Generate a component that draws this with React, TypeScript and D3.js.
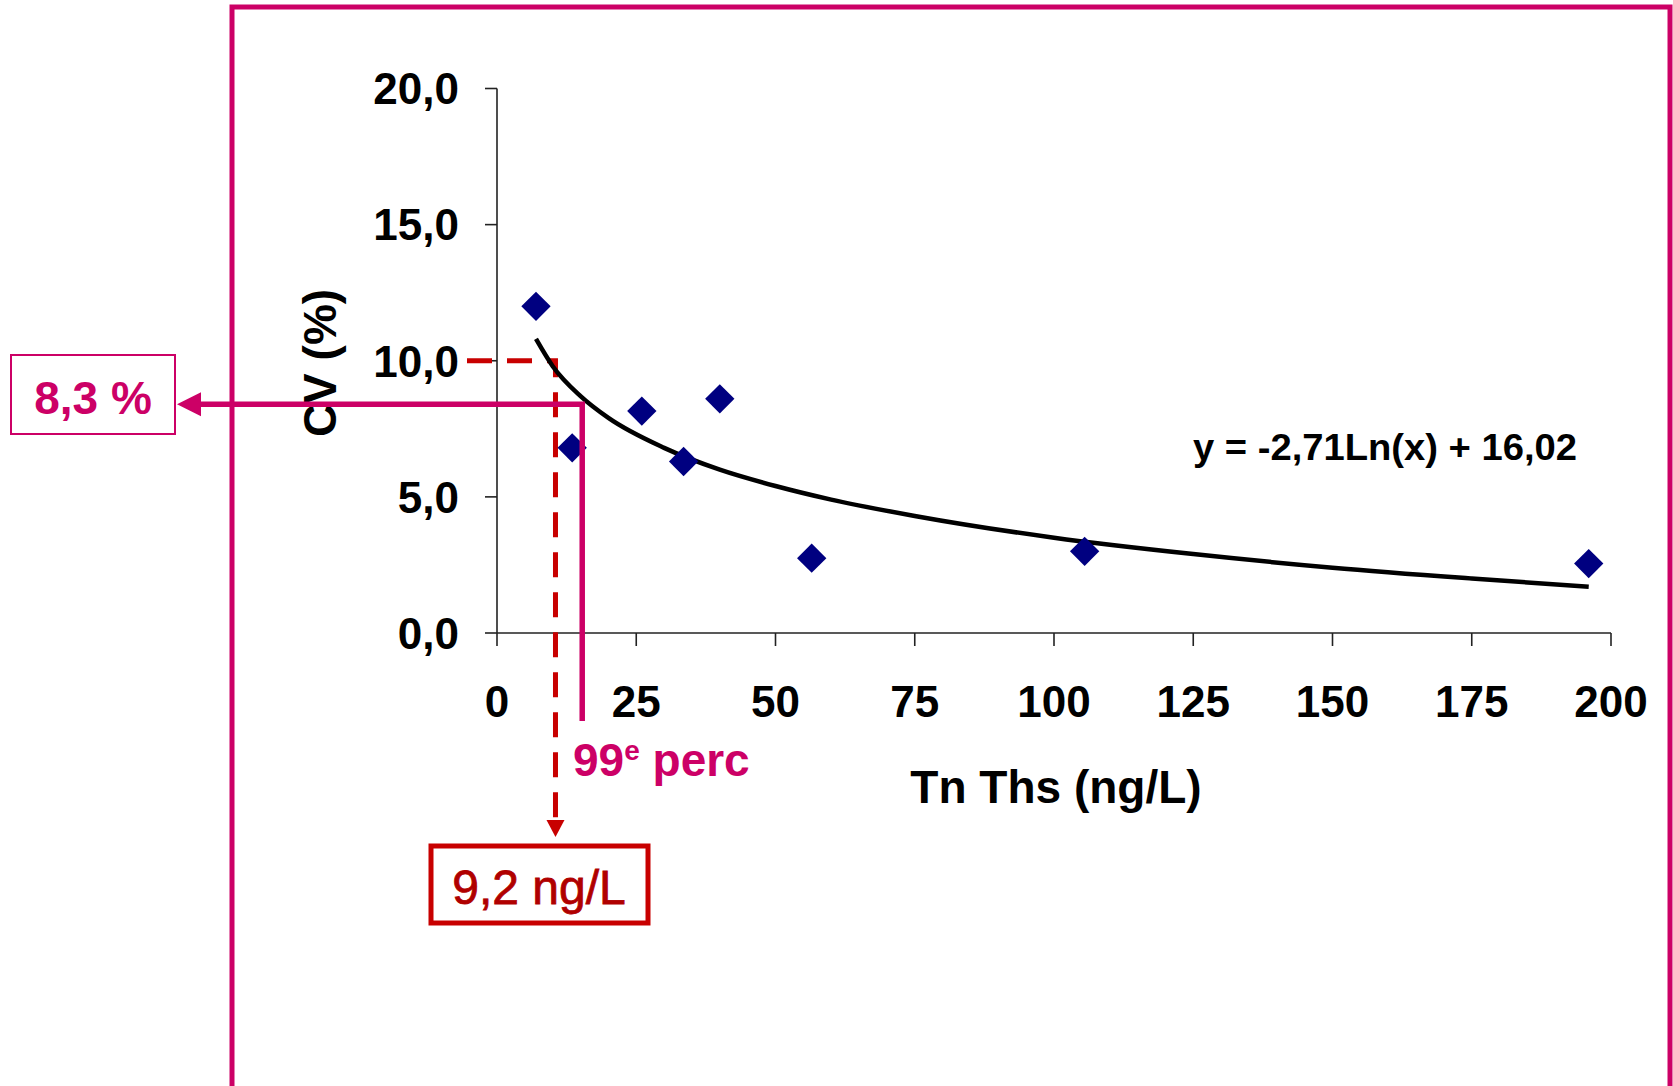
import React from "react";
import { scaleLinear, line, curveMonotoneX, symbol, symbolSquare } from "d3";

// measured CV points
const tnValues = [7, 13.5, 26, 33.5, 40, 56.5, 105.5, 196];
const cvValues = [12.0, 6.8, 8.15, 6.3, 8.6, 2.75, 3.0, 2.55];

// log trend line
const trendTn = [7, 10, 15, 20, 30, 40, 50, 60, 75, 100, 125, 150, 175, 196];
const trendCv = [10.8, 9.8, 8.7, 7.9, 6.8, 6.0, 5.4, 4.9, 4.3, 3.5, 2.9, 2.4, 2.0, 1.7];

const xTicks = [0, 25, 50, 75, 100, 125, 150, 175, 200];
const yTicks = [0, 5, 10, 15, 20];
const yTickLabels = ["0,0", "5,0", "10,0", "15,0", "20,0"];

// annotations
const cvLimit = 10;
const cvLimitTn = 10.5;
const percTn = 15.3;
const percCv = 8.4;
const equation = "y = -2,71Ln(x) + 16,02";

const width = 1673;
const height = 1086;
const font = "'Liberation Sans', Arial, sans-serif";
const magenta = "#CC0066";
const red = "#C80000";

const App = () => {
  const x = scaleLinear().domain([0, 200]).range([497, 1611]);
  const y = scaleLinear().domain([0, 20]).range([633, 88.5]);

  const trend = line<number>()
    .x((d) => x(d))
    .y((_, i) => y(trendCv[i]))
    .curve(curveMonotoneX)(trendTn);

  const diamond = symbol().type(symbolSquare).size(430)();

  const dashX = x(cvLimitTn);
  const limY = y(cvLimit);
  const pX = x(percTn);
  const pY = y(percCv);

  return (
    <svg
      width={width}
      height={height}
      style={{ position: "absolute", left: 0, top: 0, background: "#fff" }}
      fontFamily={font}
    >
      {/* frame */}
      <rect x={232} y={7} width={1438} height={1200} fill="none" stroke={magenta} strokeWidth={5} />

      {/* axes */}
      <line x1={x(0)} x2={x(0)} y1={y(20)} y2={y(0)} stroke="#222" strokeWidth={1.6} />
      <line x1={x(0)} x2={x(200)} y1={y(0)} y2={y(0)} stroke="#222" strokeWidth={1.6} />
      {yTicks.map((t, i) => (
        <g key={t}>
          <line x1={x(0) - 12} x2={x(0)} y1={y(t)} y2={y(t)} stroke="#222" strokeWidth={1.6} />
          <text x={x(0) - 38} y={y(t)} dy="0.36em" textAnchor="end" fontSize={44} fontWeight="bold" fill="#000">
            {yTickLabels[i]}
          </text>
        </g>
      ))}
      {xTicks.map((t) => (
        <g key={t}>
          <line x1={x(t)} x2={x(t)} y1={y(0)} y2={y(0) + 13} stroke="#222" strokeWidth={1.6} />
          <text x={x(t)} y={717} textAnchor="middle" fontSize={44} fontWeight="bold" fill="#000">
            {t}
          </text>
        </g>
      ))}

      <text transform="translate(336,363) rotate(-90)" textAnchor="middle" fontSize={46} fontWeight="bold" fill="#000">
        CV (%)
      </text>
      <text x={1056} y={803} textAnchor="middle" fontSize={46} fontWeight="bold" fill="#000">
        Tn Ths (ng/L)
      </text>

      {/* red dashed CV = 10 lookup */}
      <path
        d={`M467,${limY} H${dashX} V822`}
        fill="none"
        stroke={red}
        strokeWidth={5}
        strokeDasharray="25,15"
      />
      <path d={`M${dashX - 9},820 L${dashX + 9},820 L${dashX},837 Z`} fill={red} />
      <rect x={431} y={846} width={217} height={77} fill="none" stroke={red} strokeWidth={5} />
      <text x={539} y={904} textAnchor="middle" fontSize={48} fill="#B00000" stroke="#B00000" strokeWidth={0.8}>
        9,2 ng/L
      </text>

      {/* trend line */}
      <path d={trend ?? ""} fill="none" stroke="#000" strokeWidth={4.5} />

      {/* points */}
      {tnValues.map((d, i) => (
        <path
          key={i}
          d={diamond ?? ""}
          transform={`translate(${x(d)},${y(cvValues[i])}) rotate(45)`}
          fill="#000080"
        />
      ))}

      <text x={1193} y={460} fontSize={36} fontWeight="bold" fill="#000" textLength={384} lengthAdjust="spacingAndGlyphs">
        {equation}
      </text>

      {/* magenta 99th percentile */}
      <path d={`M${pX},721 V${pY} H198`} fill="none" stroke={magenta} strokeWidth={5.5} />
      <path d={`M177,${pY} L201,${pY - 12} L201,${pY + 12} Z`} fill={magenta} />
      <rect x={11} y={355} width={164} height={79} fill="none" stroke={magenta} strokeWidth={2} />
      <text x={93} y={414} textAnchor="middle" fontSize={46} fontWeight="bold" fill={magenta}>
        8,3 %
      </text>
      <text x={573} y={776} fontSize={46} fontWeight="bold" fill={magenta}>
        99<tspan dy={-16} fontSize={28}>e</tspan>
        <tspan dy={16}> perc</tspan>
      </text>
    </svg>
  );
};

export default App;
